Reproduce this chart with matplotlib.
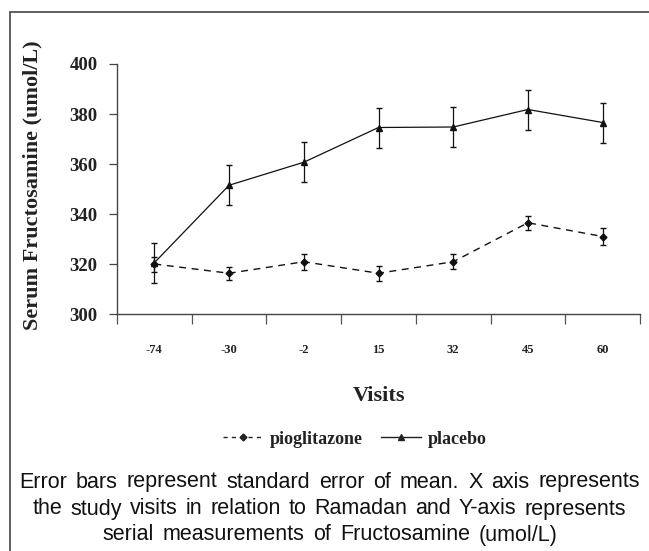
import numpy as np
import matplotlib.pyplot as plt
from matplotlib.lines import Line2D
from matplotlib.patches import Rectangle

visits = ['-74', '-30', '-2', '15', '32', '45', '60']
placebo = [320.5, 351.5, 360.7, 374.6, 374.8, 381.8, 376.6]
placebo_se = [8, 8, 8, 8, 8, 8, 8]
pioglitazone = [320.0, 316.3, 320.9, 316.3, 320.9, 336.5, 331.0]
pioglitazone_se = [3, 2.7, 3.2, 3, 3, 2.7, 3.3]

caption = ['Error bars represent standard error of mean. X axis represents',
           'the study visits in relation to Ramadan and Y-axis represents',
           'serial measurements of Fructosamine (umol/L)']

serif = 'Liberation Serif'
W, H = 649, 551

fig = plt.figure(figsize=(W / 100, H / 100), dpi=100)
ax = fig.add_axes([117 / W, 1 - 314 / H, 523 / W, 250 / H])

x = np.arange(len(visits))
ax.errorbar(x, placebo, yerr=placebo_se, color='#111111', lw=0.9, ls='-',
            marker='^', ms=4, capsize=2.5, elinewidth=0.9)
ax.errorbar(x, pioglitazone, yerr=pioglitazone_se, color='#111111', lw=1.0,
            ls=(0, (5, 4)), marker='D', ms=3.5, capsize=2.5, elinewidth=0.9)

ax.set_xlim(-0.5, len(visits) - 0.5)
ax.set_ylim(300, 400)
ax.set_yticks(np.arange(300, 401, 20))
ax.set_xticks(x)
ax.set_xticklabels(visits)
ax.set_xticks(np.arange(-0.5, len(visits)), minor=True)
ax.tick_params(axis='x', which='major', length=0, pad=21.5, labelsize=9)
ax.tick_params(axis='x', which='minor', length=7, width=0.9, direction='out',
               color='#555555')
ax.tick_params(axis='y', length=6, width=0.9, labelsize=13.5, pad=8,
               color='#444444')
for lab in ax.get_xticklabels() + ax.get_yticklabels():
    lab.set_family(serif)
    lab.set_fontweight('bold')
    lab.set_color('#222222')

for s in ['top', 'right']:
    ax.spines[s].set_visible(False)
for s in ['left', 'bottom']:
    ax.spines[s].set_linewidth(1.0)
    ax.spines[s].set_color('#444444')

fig.text(32 / W, 1 - 185 / H, 'Serum Fructosamine (umol/L)', family=serif,
         fontweight='bold', fontsize=16, rotation=90, ha='center', va='center',
         color='#222222')

fig.text(379 / W, 1 - 396 / H, 'Visits', family=serif, fontweight='bold',
         fontsize=16, ha='center', va='center', color='#222222')

handles = [
    Line2D([], [], color='#222222', ls=(0, (3, 3)), lw=1.0, marker='D', ms=3.5),
    Line2D([], [], color='#222222', ls='-', lw=1.0, marker='^', ms=4),
]
leg = fig.legend(handles, ['pioglitazone', 'placebo'], loc='center',
                 bbox_to_anchor=(355 / W, 1 - 439 / H), ncol=2, frameon=False,
                 prop={'family': serif, 'weight': 'bold', 'size': 13},
                 handlelength=2.2, handletextpad=0.4, columnspacing=1.0,
                 borderpad=0)
for t in leg.get_texts():
    t.set_color('#222222')

# caption lines are spread to fill their width, like the justified source text
spans = [(19, 640), (33, 626), (102, 558)]
ys = [482, 509, 535]
renderer = fig.canvas.get_renderer()
for line, (x0, x1), yc in zip(caption, spans, ys):
    words = line.split()
    texts = [fig.text(0, 1 - yc / H, w, family='Liberation Sans', fontsize=15.5,
                      ha='left', va='center', color='#111111') for w in words]
    widths = [t.get_window_extent(renderer).width for t in texts]
    gap = (x1 - x0 - sum(widths)) / (len(words) - 1)
    pos = x0
    for t, w in zip(texts, widths):
        t.set_x(pos / W)
        pos += w + gap

fig.patches.append(Rectangle((10 / W, -0.1), 1.1, 1 - 12 / H + 0.1,
                             transform=fig.transFigure, fill=False,
                             lw=1.2, ec='#444444'))

fig.savefig('out.png', dpi=100)
